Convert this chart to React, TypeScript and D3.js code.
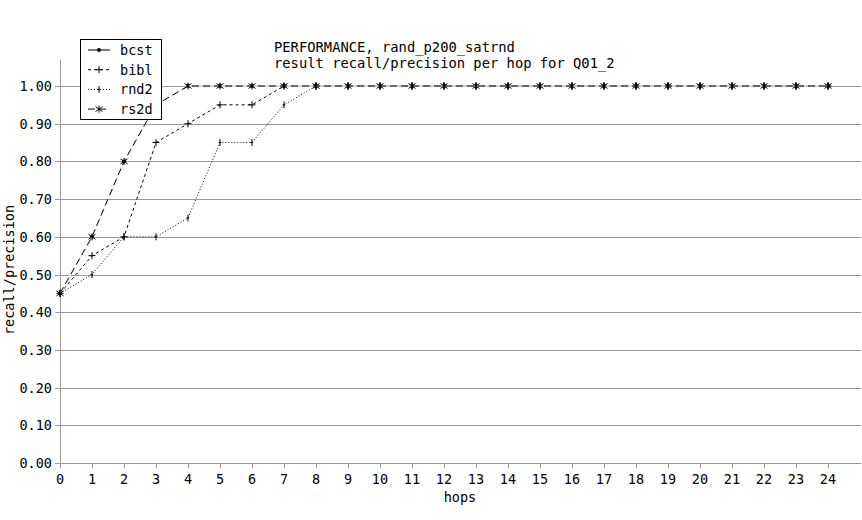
import React from "react";
import * as d3 from "d3";

const hops = d3.range(0, 25);
const yTicks = [0, 0.1, 0.2, 0.3, 0.4, 0.5, 0.6, 0.7, 0.8, 0.9, 1.0];
const tail = Array(16).fill(1.0);
const bcst = [0.45, 0.6, 0.8, 0.95, 1.0, 1.0, 1.0, 1.0, 1.0, ...tail];
const bibl = [0.45, 0.55, 0.6, 0.85, 0.9, 0.95, 0.95, 1.0, 1.0, ...tail];
const rnd2 = [0.45, 0.5, 0.6, 0.6, 0.65, 0.85, 0.85, 0.95, 1.0, ...tail];
const rs2d = [0.45, 0.6, 0.8, 0.95, 1.0, 1.0, 1.0, 1.0, 1.0, ...tail];
const seriesNames = ["bcst", "bibl", "rnd2", "rs2d"];
const seriesValues = [bcst, bibl, rnd2, rs2d];

const W = 862, H = 520;
const FONT = "'DejaVu Sans Mono', monospace";
const grid = "#999999";

const x = d3.scaleLinear().domain([0, 24]).range([60, 828]);
const y = d3.scaleLinear().domain([0, 1]).range([463, 86]);

const dashes = [null, "3,3", "1,2", "7,4"];

function Marker({ kind, cx, cy }: { kind: number; cx: number; cy: number }) {
  const s = 3.5;
  if (kind === 0) return <circle cx={cx} cy={cy} r={2} fill="#000" />;
  if (kind === 1)
    return (
      <path d={`M${cx - s},${cy}H${cx + s}M${cx},${cy - s}V${cy + s}`} stroke="#000" strokeWidth={1} fill="none" />
    );
  if (kind === 2)
    return (
      <path d={`M${cx - 1.5},${cy}H${cx + 1}M${cx},${cy - s}V${cy + s}`} stroke="#000" strokeWidth={1} fill="none" />
    );
  return (
    <path
      d={`M${cx - s},${cy - s * 0.7}L${cx + s},${cy + s * 0.7}M${cx - s},${cy + s * 0.7}L${cx + s},${cy - s * 0.7}M${cx},${cy - s}V${cy + s}`}
      stroke="#000"
      strokeWidth={1}
      fill="none"
    />
  );
}

export default function App() {
  const line = d3
    .line<number>()
    .x((_, i) => x(hops[i]))
    .y((d) => y(d));
  return (
    <svg width={W} height={H} style={{ position: "absolute", left: 0, top: 0, background: "#fff" }}>
      <rect width={W} height={H} fill="#fff" />
      {/* gridlines */}
      {yTicks.map((t) => (
        <g key={t}>
          <line x1={55} x2={861} y1={Math.round(y(t)) + 0.5} y2={Math.round(y(t)) + 0.5} stroke={grid} strokeWidth={1} />
          <text
            x={52}
            y={Math.round(y(t)) + 5}
            textAnchor="end"
            fontFamily={FONT}
            fontSize={13.5}
            fill="#000"
          >
            {t.toFixed(2)}
          </text>
        </g>
      ))}
      {/* y axis */}
      <line x1={60.5} x2={60.5} y1={60} y2={463} stroke={grid} />
      {/* x ticks */}
      {hops.map((h) => (
        <g key={h}>
          <line x1={Math.round(x(h)) + 0.5} x2={Math.round(x(h)) + 0.5} y1={463} y2={468} stroke={grid} />
          <text x={x(h)} y={484} textAnchor="middle" fontFamily={FONT} fontSize={13.5} fill="#000">
            {h}
          </text>
        </g>
      ))}
      <text x={460} y={502} textAnchor="middle" fontFamily={FONT} fontSize={13.5} fill="#000">
        hops
      </text>
      <text
        transform={`translate(14,270) rotate(-90)`}
        textAnchor="middle"
        fontFamily={FONT}
        fontSize={13.5}
        fill="#000"
      >
        recall/precision
      </text>
      {/* title */}
      <text x={274} y={52} fontFamily={FONT} fontSize={13.8} fill="#000">
        PERFORMANCE, rand_p200_satrnd
      </text>
      <text x={274} y={68} fontFamily={FONT} fontSize={13.8} fill="#000">
        result recall/precision per hop for Q01_2
      </text>
      {/* series */}
      {seriesValues.map((vals, k) => (
        <g key={seriesNames[k]}>
          {k === 3 && (
            <path d={line(vals) || ""} fill="none" stroke="#fff" strokeWidth={1.6} />
          )}
          <path
            d={line(vals) || ""}
            fill="none"
            stroke="#000"
            strokeWidth={1}
            strokeDasharray={dashes[k] || undefined}
          />
          {vals.map((v, i) => (
            <Marker key={i} kind={k} cx={x(hops[i])} cy={y(v)} />
          ))}
        </g>
      ))}
      {/* legend */}
      <rect x={80.5} y={39.5} width={81} height={80} fill="#fff" stroke="#000" strokeWidth={1} />
      {seriesNames.map((n, k) => {
        const ly = 50 + k * 19.7;
        return (
          <g key={n}>
            <line
              x1={88}
              x2={110}
              y1={ly}
              y2={ly}
              stroke="#000"
              strokeDasharray={dashes[k] || undefined}
            />
            <Marker kind={k} cx={99} cy={ly} />
            <text x={120} y={ly + 5} fontFamily={FONT} fontSize={13.5} fill="#000">
              {n}
            </text>
          </g>
        );
      })}
    </svg>
  );
}
